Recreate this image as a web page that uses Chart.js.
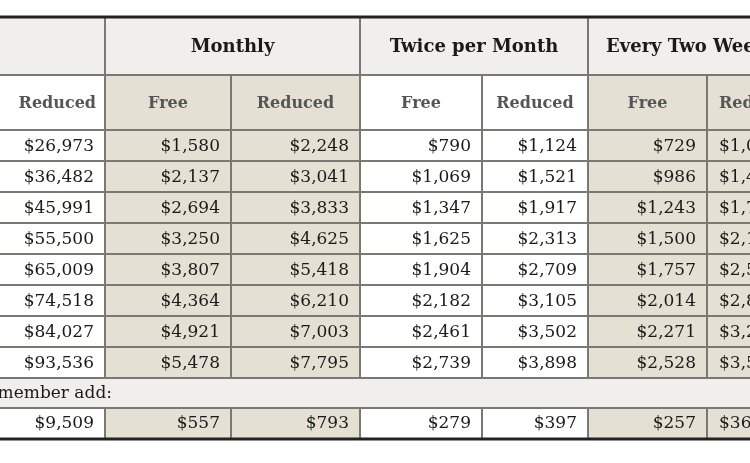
<!DOCTYPE html>
<html>
<head>
<meta charset="utf-8">
<script src="https://cdn.jsdelivr.net/npm/chart.js@4/dist/chart.umd.min.js"></script>
<style>
  html, body { margin: 0; padding: 0; background: #ffffff; }
  #wrap { width: 750px; height: 463px; }
</style>
</head>
<body>
<div id="wrap"><canvas id="tabla"></canvas></div>
<script>
const groupLabels = ["Annually", "Monthly", "Twice per Month", "Every Two Weeks"];
const subLabels = ["Reduced", "Free", "Reduced", "Free", "Reduced", "Free", "Reduced"];
const extraLabel = "Each additional household member add:";

const annualReduced = ["$26,973", "$36,482", "$45,991", "$55,500", "$65,009", "$74,518", "$84,027", "$93,536", "$9,509"];
const monthlyFree = ["$1,580", "$2,137", "$2,694", "$3,250", "$3,807", "$4,364", "$4,921", "$5,478", "$557"];
const monthlyReduced = ["$2,248", "$3,041", "$3,833", "$4,625", "$5,418", "$6,210", "$7,003", "$7,795", "$793"];
const twiceFree = ["$790", "$1,069", "$1,347", "$1,625", "$1,904", "$2,182", "$2,461", "$2,739", "$279"];
const twiceReduced = ["$1,124", "$1,521", "$1,917", "$2,313", "$2,709", "$3,105", "$3,502", "$3,898", "$397"];
const biweeklyFree = ["$729", "$986", "$1,243", "$1,500", "$1,757", "$2,014", "$2,271", "$2,528", "$257"];
const biweeklyReduced = ["$1,038", "$1,404", "$1,769", "$2,135", "$2,501", "$2,866", "$3,232", "$3,598", "$366"];

const columnas = [annualReduced, monthlyFree, monthlyReduced, twiceFree, twiceReduced, biweeklyFree, biweeklyReduced];

// layout of the table in page units
const bordesX = [-20, 105, 231, 360, 482, 588, 707, 830];
const grupos = [[-280, 105], [105, 360], [360, 588], [588, 1000]];
const beige = [false, true, true, false, false, true, true];
const filasY = { top: 18, head1: 75, head2: 130, row: 31, extraH: 30, lastH: 30 };

const COLOR_BEIGE = "#e4e1d4";
const COLOR_GRIS = "#f0efed";
const COLOR_LINEA = "#7a7873";
const SERIF = "'DejaVu Serif', 'Liberation Serif', serif";

const pluginTabla = {
  id: "pluginTabla",
  beforeDraw(chart) {
    const { ctx } = chart;
    const sx = chart.scales.x;
    const sy = chart.scales.y;
    const px = (v) => sx.getPixelForValue(v);
    const py = (v) => sy.getPixelForValue(v);

    const nDatos = annualReduced.length - 1;
    const yDatosFin = filasY.head2 + nDatos * filasY.row;
    const yExtraFin = yDatosFin + filasY.extraH;
    const yFin = yExtraFin + filasY.lastH;

    ctx.save();
    ctx.fillStyle = "#ffffff";
    ctx.fillRect(0, 0, chart.width, chart.height);

    // header row 1
    ctx.fillStyle = COLOR_GRIS;
    ctx.fillRect(px(-20), py(filasY.top), px(830) - px(-20), py(filasY.head1) - py(filasY.top));

    // beige columns (header 2 + data rows + last row)
    columnas.forEach((col, i) => {
      if (!beige[i]) return;
      ctx.fillStyle = COLOR_BEIGE;
      const x0 = px(bordesX[i]);
      const w = px(bordesX[i + 1]) - x0;
      ctx.fillRect(x0, py(filasY.head1), w, py(yDatosFin) - py(filasY.head1));
      ctx.fillRect(x0, py(yExtraFin), w, py(yFin) - py(yExtraFin));
    });

    // extra row
    ctx.fillStyle = COLOR_GRIS;
    ctx.fillRect(px(-20), py(yDatosFin), px(830) - px(-20), py(yExtraFin) - py(yDatosFin));

    // grid lines
    ctx.strokeStyle = COLOR_LINEA;
    ctx.lineWidth = 2;
    const hLinea = (y) => {
      ctx.beginPath();
      ctx.moveTo(px(-20), py(y));
      ctx.lineTo(px(830), py(y));
      ctx.stroke();
    };
    const vLinea = (x, y0, y1) => {
      ctx.beginPath();
      ctx.moveTo(px(x), py(y0));
      ctx.lineTo(px(x), py(y1));
      ctx.stroke();
    };
    hLinea(filasY.head1);
    for (let r = 0; r <= nDatos; r++) hLinea(filasY.head2 + r * filasY.row);
    hLinea(yExtraFin);

    grupos.forEach((g) => vLinea(g[1], filasY.top, filasY.head1));
    for (let i = 1; i < bordesX.length - 1; i++) {
      vLinea(bordesX[i], filasY.head1, yDatosFin);
      vLinea(bordesX[i], yExtraFin, yFin);
    }

    // thick top / bottom
    ctx.strokeStyle = "#222222";
    ctx.lineWidth = 3;
    ctx.beginPath();
    ctx.moveTo(0, py(filasY.top) - 1);
    ctx.lineTo(chart.width, py(filasY.top) - 1);
    ctx.moveTo(0, py(yFin) + 1);
    ctx.lineTo(chart.width, py(yFin) + 1);
    ctx.stroke();

    // texts
    ctx.textBaseline = "middle";
    ctx.fillStyle = "#1a1a1a";
    ctx.font = `bold 18px ${SERIF}`;
    ctx.textAlign = "center";
    const yH1 = (py(filasY.top) + py(filasY.head1)) / 2 + 1;
    grupos.forEach((g, i) => {
      let cx = (px(g[0]) + px(g[1])) / 2;
      if (i === 3) cx = px(g[0]) + 18 + ctx.measureText(groupLabels[i]).width / 2;
      ctx.fillText(groupLabels[i], cx, yH1);
    });

    ctx.font = `bold 16px ${SERIF}`;
    ctx.fillStyle = "#555555";
    const yH2 = (py(filasY.head1) + py(filasY.head2)) / 2 + 1;
    subLabels.forEach((t, i) => {
      let cx = (px(bordesX[i]) + px(bordesX[i + 1])) / 2;
      if (i === 0) cx = px(bordesX[1]) - 9 - ctx.measureText(t).width / 2;
      if (i === 6) cx = px(bordesX[6]) + 12 + ctx.measureText(t).width / 2;
      ctx.fillText(t, cx, yH2);
    });

    ctx.font = `17px ${SERIF}`;
    ctx.fillStyle = "#1a1a1a";
    ctx.textAlign = "right";
    columnas.forEach((col, i) => {
      col.forEach((v, r) => {
        let yc;
        if (r < nDatos) yc = py(filasY.head2 + (r + 0.5) * filasY.row);
        else yc = py(yExtraFin + filasY.lastH / 2);
        if (i === 6) {
          ctx.textAlign = "left";
          ctx.fillText(v, px(bordesX[6]) + 12, yc + 1);
          ctx.textAlign = "right";
        } else {
          ctx.fillText(v, px(bordesX[i + 1]) - 11, yc + 1);
        }
      });
    });

    ctx.textAlign = "right";
    ctx.fillText(extraLabel, px(112), py(yDatosFin + filasY.extraH / 2) + 1);
    ctx.restore();
  },
};

new Chart(document.getElementById("tabla"), {
  type: "bar",
  data: { labels: [], datasets: [] },
  options: {
    responsive: true,
    maintainAspectRatio: false,
    animation: false,
    layout: { padding: 0 },
    plugins: { legend: { display: false }, tooltip: { enabled: false } },
    scales: {
      x: { type: "linear", min: 0, max: 750, offset: false, display: false },
      y: { type: "linear", min: 0, max: 463, reverse: true, offset: false, display: false },
    },
  },
  plugins: [pluginTabla],
});
</script>
</body>
</html>
